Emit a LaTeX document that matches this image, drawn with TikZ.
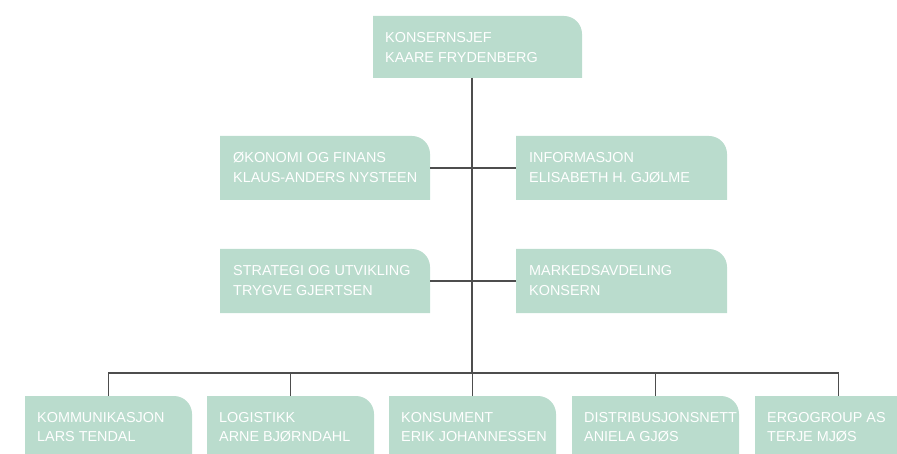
\documentclass[tikz,border=0pt]{standalone}
\usepackage{fontspec}
\setmainfont{Liberation Sans}
\definecolor{mint}{HTML}{BADCCD}
\definecolor{linegrey}{HTML}{4D4D4D}
\newcommand\twolines[2]{\vtop{\baselineskip=19.5pt\hbox{#1}\hbox{#2}}}
\begin{document}
\begin{tikzpicture}[x=1pt,y=1pt,
  orgbox/.style={draw=none, rectangle, inner sep=0pt, outer sep=0pt, anchor=north west,
    minimum height=#1,
    path picture={\fill[mint] (path picture bounding box.south west) -- (path picture bounding box.south east)
      -- ([yshift=-18pt]path picture bounding box.north east) arc[start angle=0,end angle=90,radius=18pt]
      -- (path picture bounding box.north west) -- cycle;}},
  orgbox/.default=64pt,
  orgtext/.style={anchor=base west, inner sep=0pt, text=white, font=\fontsize{14.4pt}{19.5pt}\selectfont},
  conn/.style={draw=linegrey, line width=1.1pt}
]
\useasboundingbox (0,0) rectangle (897,453);
\clip (0,0) rectangle (897,453);

% top
\node[orgbox=62pt, minimum width=209pt] (top) at (373,437) {};
\node[orgtext] (top-t) at ([xshift=12pt,yshift=-27pt]top.north west) {\twolines{KONSERNSJEF}{KAARE FRYDENBERG}};

% row 1
\node[orgbox, minimum width=210pt] (oko) at (220,317) {};
\node[orgtext] (oko-t) at ([xshift=13pt,yshift=-27pt]oko.north west) {\twolines{ØKONOMI OG FINANS}{KLAUS-ANDERS NYSTEEN}};
\node[orgbox, minimum width=211pt] (info) at (516,317) {};
\node[orgtext] (info-t) at ([xshift=13pt,yshift=-27pt]info.north west) {\twolines{INFORMASJON}{ELISABETH H. GJØLME}};

% row 2
\node[orgbox, minimum width=210pt] (strat) at (220,204) {};
\node[orgtext] (strat-t) at ([xshift=13pt,yshift=-27pt]strat.north west) {\twolines{STRATEGI OG UTVIKLING}{TRYGVE GJERTSEN}};
\node[orgbox, minimum width=211pt] (mark) at (516,204) {};
\node[orgtext] (mark-t) at ([xshift=13pt,yshift=-27pt]mark.north west) {\twolines{MARKEDSAVDELING}{KONSERN}};

% bottom row
\node[orgbox=62pt, minimum width=167pt] (b1) at (25,57) {};
\node[orgtext] (b1-t) at ([xshift=12pt,yshift=-26pt]b1.north west) {\twolines{KOMMUNIKASJON}{LARS TENDAL}};
\node[orgbox=62pt, minimum width=167pt] (b2) at (207,57) {};
\node[orgtext] (b2-t) at ([xshift=12pt,yshift=-26pt]b2.north west) {\twolines{LOGISTIKK}{ARNE BJØRNDAHL}};
\node[orgbox=62pt, minimum width=167pt] (b3) at (389,57) {};
\node[orgtext] (b3-t) at ([xshift=12pt,yshift=-26pt]b3.north west) {\twolines{KONSUMENT}{ERIK JOHANNESSEN}};
\node[orgbox=62pt, minimum width=167pt] (b4) at (572,57) {};
\node[orgtext] (b4-t) at ([xshift=12pt,yshift=-26pt]b4.north west) {\twolines{DISTRIBUSJONSNETT}{ANIELA GJØS}};
\node[orgbox=62pt, minimum width=167pt] (b5) at (755,57) {};
\node[orgtext] (b5-t) at ([xshift=12pt,yshift=-26pt]b5.north west) {\twolines{ERGOGROUP AS}{TERJE MJØS}};

% connectors
\coordinate (bus) at (472,80);
\draw[conn] (bus |- top.south) -- (bus);
\draw[conn] (oko.east) -- (info.west);
\draw[conn] (strat.east) -- (mark.west);
\draw[conn] (b1.north) |- (bus) -| (b5.north);
\draw[conn] (b2.north) -- (b2.north |- bus);
\draw[conn] (b3.north) -- (b3.north |- bus);
\draw[conn] (b4.north) -- (b4.north |- bus);
\end{tikzpicture}
\end{document}
